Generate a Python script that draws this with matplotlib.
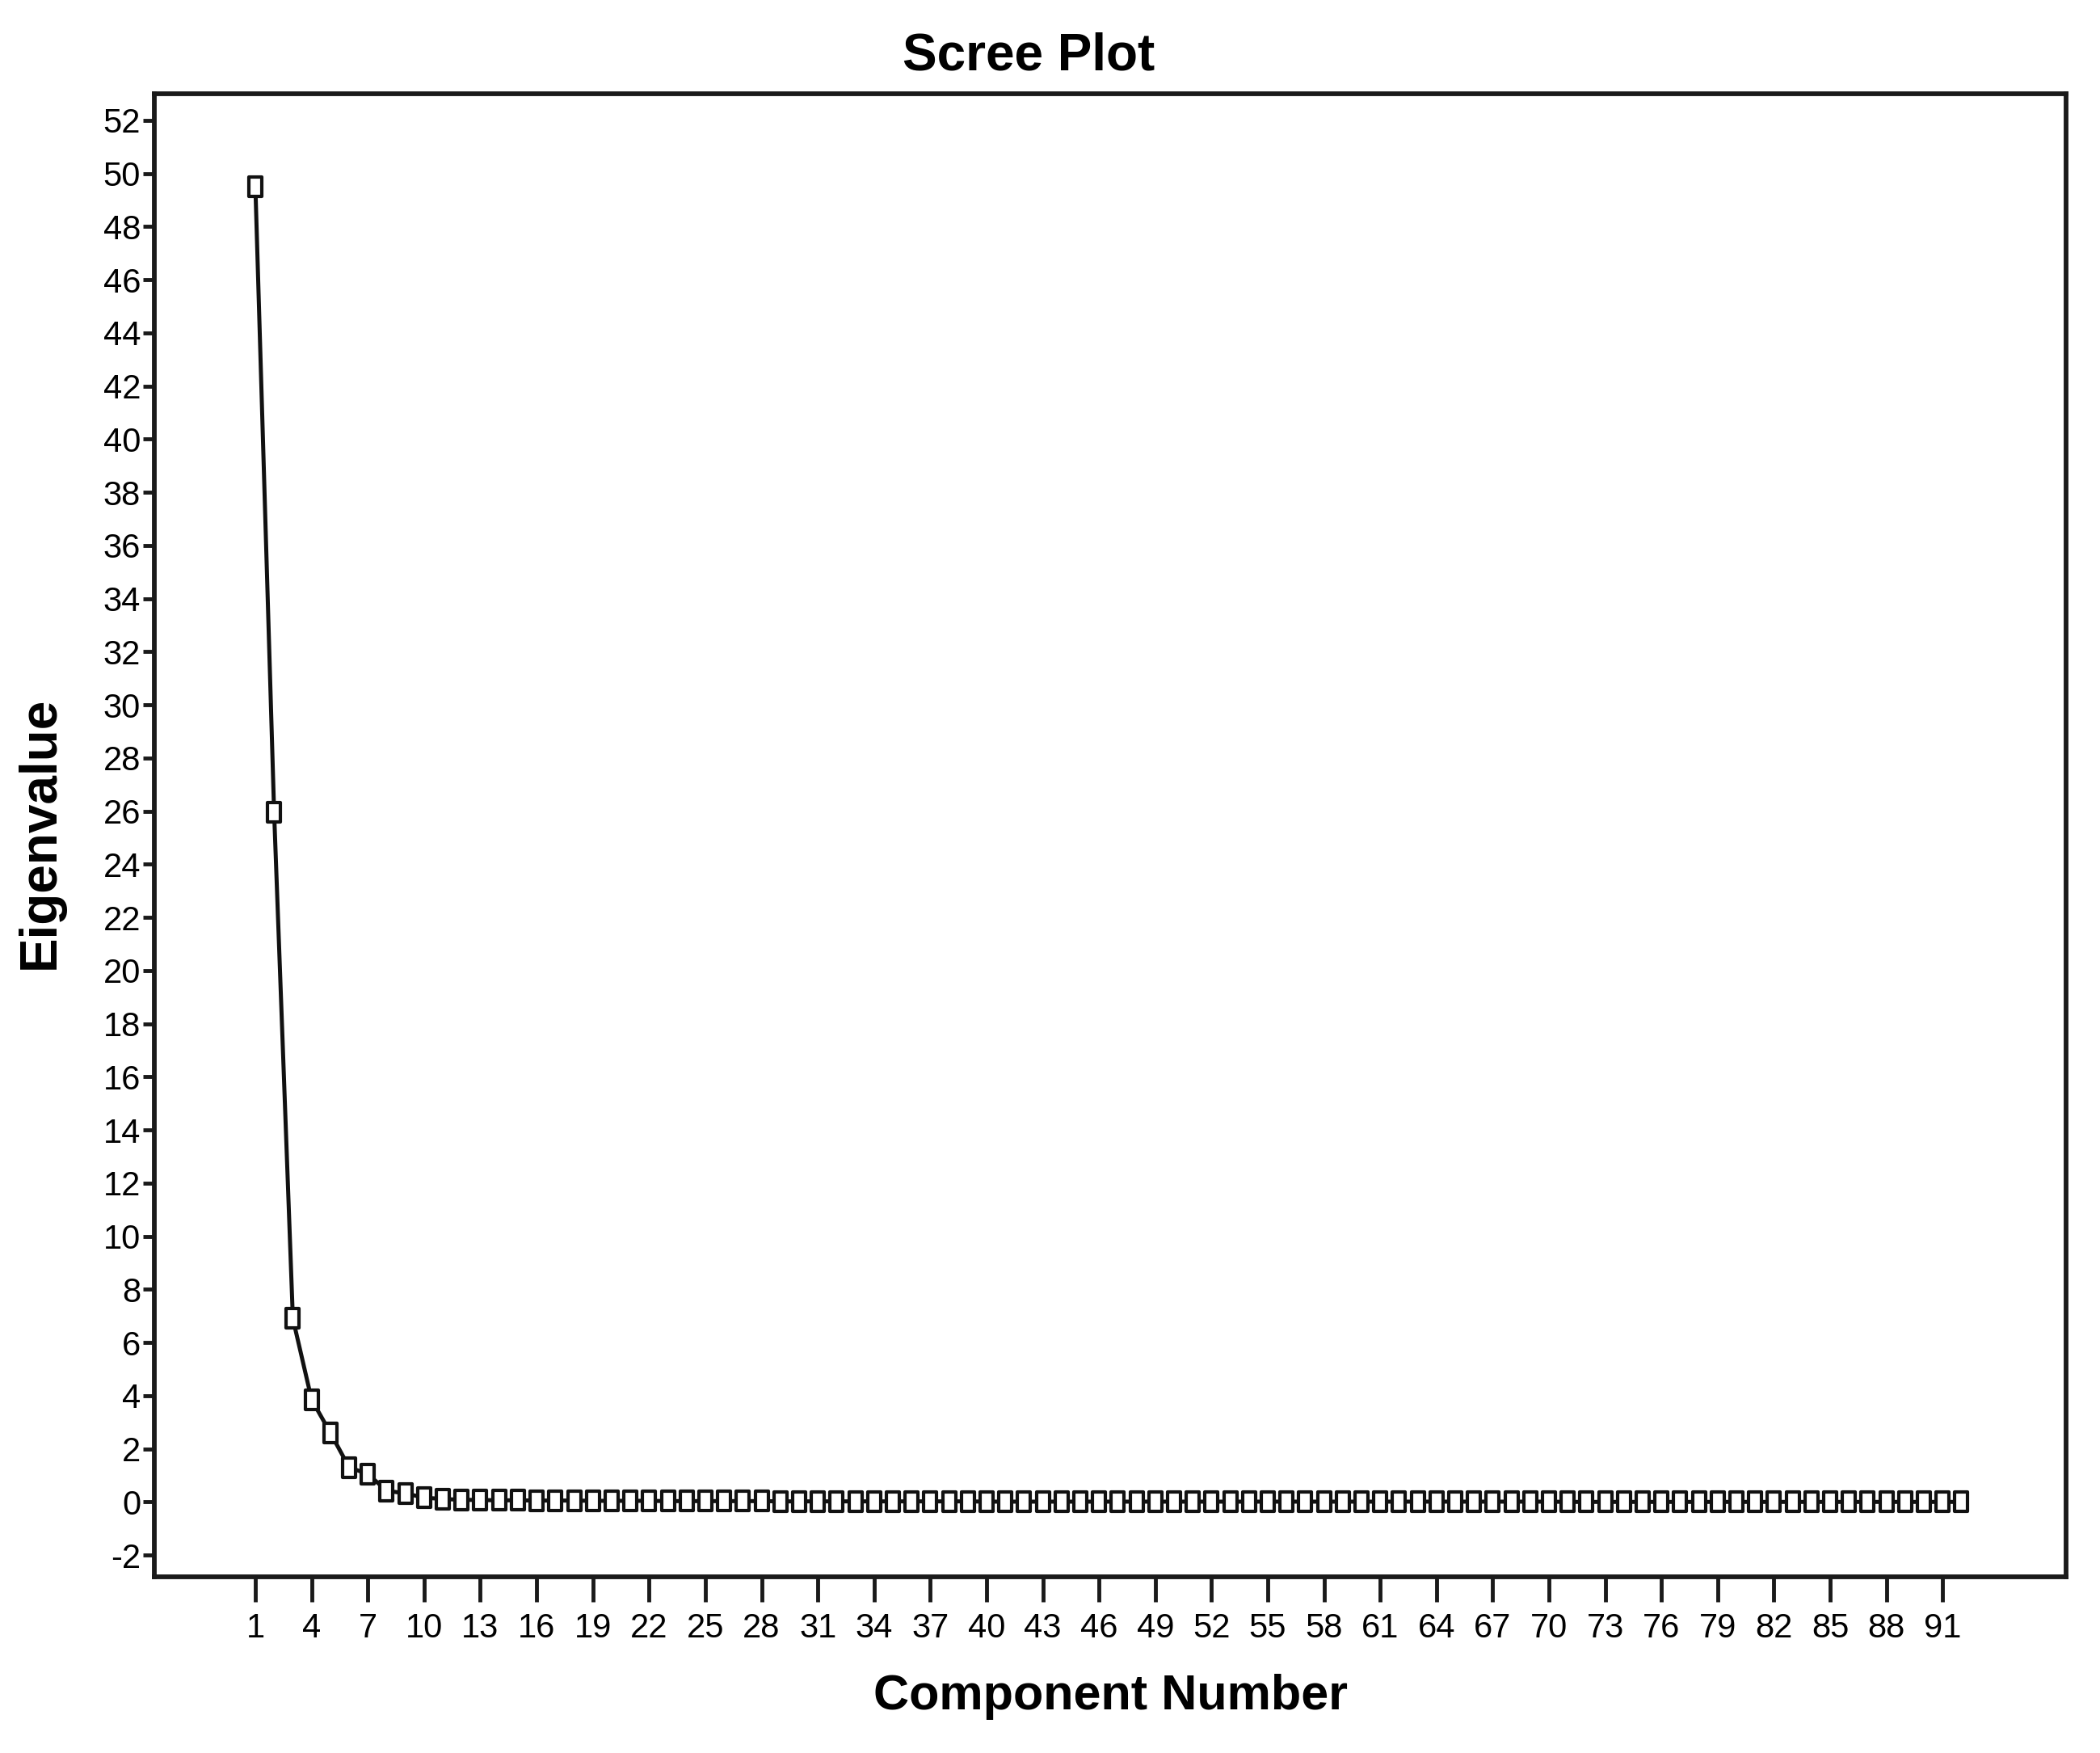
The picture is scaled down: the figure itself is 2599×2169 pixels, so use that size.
import matplotlib
matplotlib.use("Agg")
import matplotlib.pyplot as plt
from matplotlib import font_manager
from matplotlib.path import Path
import numpy as np

components = list(range(1, 93))
eigenvalues = [49.5, 25.95, 6.9, 3.85, 2.6, 1.3, 1.05, 0.42, 0.32, 0.16, 0.11,
               0.08, 0.07, 0.06, 0.06, 0.05, 0.05, 0.05, 0.04, 0.04, 0.04, 0.04,
               0.03, 0.03, 0.03, 0.03, 0.03, 0.03, 0.02, 0.02, 0.02, 0.02, 0.02,
               0.02, 0.02, 0.02, 0.02, 0.02, 0.02, 0.01, 0.01, 0.01, 0.01, 0.01,
               0.01, 0.01, 0.01, 0.01, 0.01, 0.01, 0.01, 0.01, 0.01, 0.01, 0.01,
               0.01, 0.01, 0.01, 0.01, 0.01, 0.01, 0.01, 0.01, 0.01, 0.01, 0.01,
               0.01, 0.01, 0.01, 0.01, 0.00, 0.00, 0.00, 0.00, 0.00, 0.00, 0.00,
               0.00, 0.00, 0.00, 0.00, 0.00, 0.00, 0.00, 0.00, 0.00, 0.00, 0.00,
               0.00, 0.00, 0.00, 0.00]
y_ticks = list(range(-2, 53, 2))
x_ticks = list(range(1, 92, 3))

names = {f.name for f in font_manager.fontManager.ttflist}
fam = "Liberation Sans Narrow" if "Liberation Sans Narrow" in names else "Liberation Sans"
plt.rcParams['font.family'] = [fam, 'DejaVu Sans']

fig = plt.figure(figsize=(25.99, 21.69), dpi=100)
ax = fig.add_axes([0.0734, 0.1005, 0.9106, 0.846])

rect = Path([(-0.32, -0.5), (0.32, -0.5), (0.32, 0.5), (-0.32, 0.5), (-0.32, -0.5)],
            [Path.MOVETO, Path.LINETO, Path.LINETO, Path.LINETO, Path.CLOSEPOLY])
ax.plot(components, eigenvalues, color='#111111', lw=3.6, marker=rect, ms=17,
        mfc='white', mec='#111111', mew=3.0)

ax.set_xlim(-4.4, 97.6)
ax.set_ylim(-2.82, 53.0)
ax.set_yticks(y_ticks)
ax.set_yticklabels([str(v) for v in y_ticks])
ax.set_xticks(x_ticks)
ax.set_xticklabels([str(v) for v in x_ticks])
for s in ax.spines.values():
    s.set_linewidth(4.2)
    s.set_color('#1a1a1a')
ax.tick_params(axis='y', length=10, width=3.5, labelsize=30, pad=2, color='#1a1a1a')
ax.tick_params(axis='x', length=22, width=3.5, labelsize=30, pad=10, color='#1a1a1a')

fig.text(0.49, 0.982, "Scree Plot", ha='center', va='top', fontsize=46, fontweight='bold')
fig.text(0.019, 0.525, "Eigenvalue", ha='center', va='center', rotation=90,
         fontsize=46, fontweight='bold')
fig.text(0.529, 0.032, "Component Number", ha='center', va='center',
         fontsize=44, fontweight='bold')

fig.savefig("out.png", dpi=100)
